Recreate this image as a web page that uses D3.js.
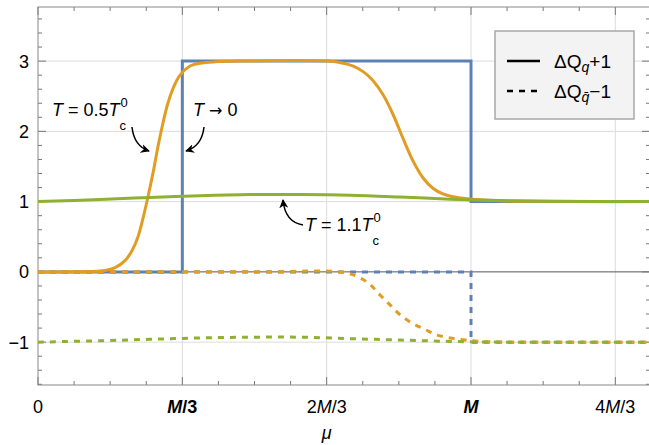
<!DOCTYPE html>
<html>
<head>
<meta charset="utf-8">
<script src="https://cdn.jsdelivr.net/npm/d3@7"></script>
<style>
  body { margin: 0; background: #fff; }
  text { font-family: "Liberation Sans", Arial, sans-serif; }
</style>
</head>
<body>
<div class="chart"></div>
<script>
// mu in units of M
const xTickVals = [0, 1/3, 2/3, 1, 4/3];
const yTickVals = [-1, 0, 1, 2, 3];

// T -> 0 (step)
const blueMu   = [0, 1/3, 1/3, 1, 1, 1.42];
const blueQ    = [0, 0, 3, 3, 1, 1];
const blueQbar = [0, 0, 0, 0, -1, -1];

// T = 0.5 Tc0
const orangeMu = [0, 0.120, 0.155, 0.178, 0.201, 0.217, 0.231, 0.242, 0.254, 0.266, 0.277,
  0.289, 0.300, 0.314, 0.328, 0.351, 0.374, 0.409, 0.467, 0.670, 0.705, 0.728, 0.751, 0.774,
  0.797, 0.820, 0.843, 0.866, 0.889, 0.912, 0.935, 0.958, 0.986, 1.021, 1.067, 1.136, 1.25, 1.42];
const orangeQ  = [0, 0.005, 0.02, 0.06, 0.16, 0.3, 0.5, 0.75, 1.07, 1.42, 1.78,
  2.13, 2.4, 2.64, 2.8, 2.93, 2.97, 2.99, 3.0, 3.0, 2.97, 2.93, 2.85, 2.72,
  2.52, 2.24, 1.90, 1.58, 1.34, 1.19, 1.11, 1.07, 1.045, 1.025, 1.012, 1.004, 1.0, 1.0];
const orangeQbarMu = [0, 0.5, 0.700, 0.739, 0.767, 0.790, 0.813, 0.836, 0.864, 0.894, 0.922, 0.952, 0.986, 1.021, 1.09, 1.2, 1.42];
const orangeQbar   = [0, 0, -0.003, -0.07, -0.18, -0.33, -0.47, -0.61, -0.73, -0.82, -0.9, -0.94, -0.97, -0.99, -1.0, -1.0, -1.0];

// T = 1.1 Tc0
const greenMu   = [0, 0.143, 0.259, 0.374, 0.490, 0.605, 0.721, 0.836, 0.952, 1.067, 1.183, 1.42];
const greenQ    = [1.0, 1.03, 1.06, 1.085, 1.1, 1.1, 1.09, 1.065, 1.035, 1.015, 1.005, 1.0];
const greenQbar = [-1.0, -0.98, -0.96, -0.94, -0.93, -0.93, -0.95, -0.97, -0.99, -1.0, -1.0, -1.0];

const width = 649, height = 445;
const pL = 38, pR = 650, pT = 7, pB = 385;

const svg = d3.select(".chart").append("svg")
    .attr("width", width)
    .attr("height", height);

const x = d3.scaleLinear().domain([0, (pR - pL) / 433]).range([pL, pR]);
const y = d3.scaleLinear().domain([-1.61, 3.77]).range([pB, pT]);

svg.append("defs").append("clipPath").attr("id", "clip")
  .append("rect").attr("x", pL).attr("y", pT)
  .attr("width", pR - pL).attr("height", pB - pT);

// grid
const grid = svg.append("g");
grid.selectAll(".gx").data(xTickVals.slice(1)).enter().append("line")
    .attr("x1", d => x(d)).attr("x2", d => x(d))
    .attr("y1", pT).attr("y2", pB)
    .attr("stroke", "#dcdcdc").attr("stroke-width", 1);
grid.selectAll(".gy").data([-1, 1, 2, 3]).enter().append("line")
    .attr("x1", pL).attr("x2", pR)
    .attr("y1", d => y(d)).attr("y2", d => y(d))
    .attr("stroke", "#dcdcdc").attr("stroke-width", 1);
grid.append("line")
    .attr("x1", pL).attr("x2", pR)
    .attr("y1", y(0)).attr("y2", y(0))
    .attr("stroke", "#555").attr("stroke-width", 1);

// ticks inside frame
const xMinor = d3.range(0, 17).map(i => i / 12);
const yMinor = d3.range(-8, 19).map(i => i / 5);
const isMajor = (v, step) => Math.abs(v / step - Math.round(v / step)) < 1e-6;

const ticks = svg.append("g").attr("stroke", "#777").attr("stroke-width", 1);
xMinor.forEach(v => {
  const len = isMajor(v, 1/3) ? 8 : 4;
  ticks.append("line").attr("x1", x(v)).attr("x2", x(v)).attr("y1", pB).attr("y2", pB - len);
  ticks.append("line").attr("x1", x(v)).attr("x2", x(v)).attr("y1", pT).attr("y2", pT + len);
});
yMinor.forEach(v => {
  const len = isMajor(v, 1) ? 8 : 4;
  ticks.append("line").attr("x1", pL).attr("x2", pL + len).attr("y1", y(v)).attr("y2", y(v));
  ticks.append("line").attr("x1", pR).attr("x2", pR - len).attr("y1", y(v)).attr("y2", y(v));
});

// frame
svg.append("rect").attr("x", pL).attr("y", pT)
   .attr("width", pR - pL).attr("height", pB - pT)
   .attr("fill", "none").attr("stroke", "#888").attr("stroke-width", 1);

// tick labels
const fs = 18;
const xl = svg.append("g").attr("font-size", fs).attr("text-anchor", "middle");
const xLabelParts = [
  [["0", "normal", "normal"]],
  [["M", "italic", "bold"], ["/3", "normal", "bold"]],
  [["2", "normal", "normal"], ["M", "italic", "normal"], ["/3", "normal", "normal"]],
  [["M", "italic", "bold"]],
  [["4", "normal", "normal"], ["M", "italic", "normal"], ["/3", "normal", "normal"]]
];
xTickVals.forEach((v, i) => {
  const t = xl.append("text").attr("x", x(v)).attr("y", 413);
  xLabelParts[i].forEach(p => t.append("tspan").text(p[0]).attr("font-style", p[1]).attr("font-weight", p[2]));
});
svg.append("text").attr("x", x(2/3)).attr("y", 439).attr("font-size", fs)
   .attr("text-anchor", "middle").attr("font-style", "italic").text("μ");

svg.append("g").attr("font-size", fs).attr("text-anchor", "end")
  .selectAll("text").data(yTickVals).enter().append("text")
  .attr("x", 29).attr("y", d => y(d) + 6.5)
  .text(d => d < 0 ? "\u2212" + Math.abs(d) : d);

// curves
const curves = svg.append("g").attr("clip-path", "url(#clip)").attr("fill", "none")
  .attr("stroke-width", 3);
const series = [
  [blueMu, blueQ, "#5e81b5", null, false],
  [blueMu, blueQbar, "#5e81b5", "6,6", false],
  [orangeMu, orangeQ, "#e19c24", null, true],
  [orangeQbarMu, orangeQbar, "#e19c24", "6,6", true],
  [greenMu, greenQ, "#8fb131", null, true],
  [greenMu, greenQbar, "#8fb131", "6,6", true]
];
series.forEach(s => {
  const line = d3.line().x(d => x(d[0])).y(d => y(d[1]))
    .curve(s[4] ? d3.curveCatmullRom.alpha(0.5) : d3.curveLinear);
  curves.append("path")
    .datum(d3.zip(s[0], s[1]))
    .attr("d", line)
    .attr("stroke", s[2])
    .attr("stroke-dasharray", s[3]);
});

// annotations
function tLabel(x0, yb, pre) {
  const t = svg.append("text").attr("x", x0).attr("y", yb).attr("font-size", fs);
  t.append("tspan").attr("font-style", "italic").text("T");
  t.append("tspan").text(" = " + pre);
  t.append("tspan").attr("font-style", "italic").text("T");
  const w = t.node().getComputedTextLength();
  svg.append("text").attr("x", x0 + w + 1).attr("y", yb - 9).attr("font-size", 13).text("0");
  svg.append("text").attr("x", x0 + w).attr("y", yb + 14).attr("font-size", 13).text("c");
}
tLabel(52, 116, "0.5");
tLabel(305, 231, "1.1");
const t0 = svg.append("text").attr("x", 193).attr("y", 116).attr("font-size", fs);
t0.append("tspan").attr("font-style", "italic").text("T");
t0.append("tspan").attr("font-family", "DejaVu Sans").attr("font-size", 16).text(" \u2192 ");
t0.append("tspan").text("0");

svg.append("defs").append("marker").attr("id", "arr")
   .attr("viewBox", "0 0 10 10").attr("refX", 9).attr("refY", 5)
   .attr("markerWidth", 9).attr("markerHeight", 9).attr("orient", "auto")
   .attr("markerUnits", "userSpaceOnUse")
  .append("path").attr("d", "M0,0L10,5L0,10L3,5Z").attr("fill", "#000");
const arrows = [
  "M132,127 Q134,146 149,151",
  "M204,127 Q202,146 186,151",
  "M303,225 Q285,222 283,200"
];
svg.selectAll(".arrow").data(arrows).enter().append("path")
   .attr("d", d => d).attr("fill", "none").attr("stroke", "#000")
   .attr("stroke-width", 1.5).attr("marker-end", "url(#arr)");

// legend
const lg = svg.append("g");
lg.append("rect").attr("x", 495).attr("y", 31).attr("width", 139).attr("height", 88)
  .attr("fill", "#f3f3f3").attr("stroke", "#a8a8a8").attr("stroke-width", 1.5);
lg.append("line").attr("x1", 507).attr("x2", 540).attr("y1", 61).attr("y2", 61)
  .attr("stroke", "#000").attr("stroke-width", 2.5);
lg.append("line").attr("x1", 507).attr("x2", 540).attr("y1", 91).attr("y2", 91)
  .attr("stroke", "#000").attr("stroke-width", 2.5).attr("stroke-dasharray", "6,6");
const l1 = lg.append("text").attr("x", 554).attr("y", 68).attr("font-size", 19);
l1.append("tspan").text("\u0394Q");
l1.append("tspan").attr("font-style", "italic").attr("font-size", 14).attr("dy", 4).text("q");
l1.append("tspan").attr("dy", -4).text("+1");
const l2 = lg.append("text").attr("x", 554).attr("y", 98).attr("font-size", 19);
l2.append("tspan").text("\u0394Q");
l2.append("tspan").attr("font-style", "italic").attr("font-size", 14).attr("dy", 4).text("q\u0304");
l2.append("tspan").attr("dy", -4).text("\u22121");
</script>
</body>
</html>
